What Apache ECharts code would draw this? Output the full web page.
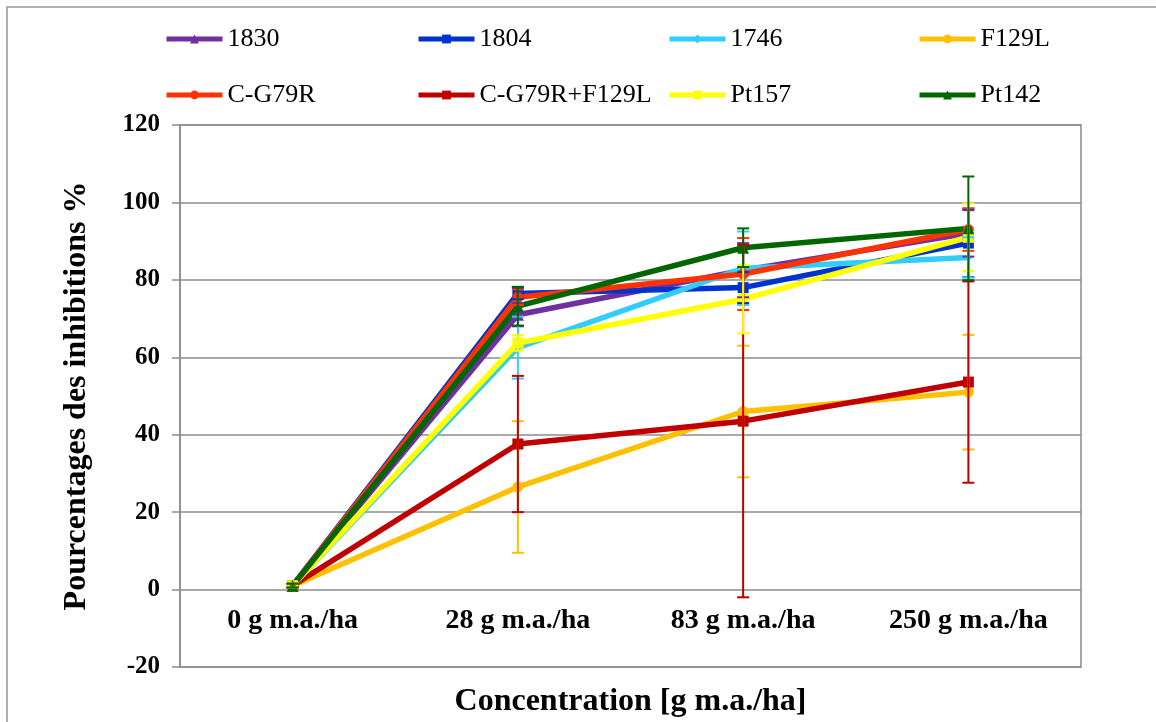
<!DOCTYPE html>
<html>
<head>
<meta charset="utf-8">
<script src="https://cdn.jsdelivr.net/npm/echarts@6/dist/echarts.min.js"></script>
<style>html,body{margin:0;padding:0;background:#fff}#c{width:1156px;height:722px}</style>
</head>
<body>
<div id="c"></div>
<script>
const categories = ['0 g m.a./ha', '28 g m.a./ha', '83 g m.a./ha', '250 g m.a./ha'];
const yTicks = [-20, 0, 20, 40, 60, 80, 100, 120];

const names = ['1830', '1804', '1746', 'F129L', 'C-G79R', 'C-G79R+F129L', 'Pt157', 'Pt142'];
const colors = ['#7030A0', '#0033CC', '#33CCFF', '#FFC000', '#FF3300', '#C00000', '#FFFF00', '#006600'];
const symbols = ['triangle', 'rect', 'diamond', 'circle', 'circle', 'rect', 'rect', 'triangle'];

const v1830 = [1, 71, 82.5, 92];
const v1804 = [1, 76.5, 78, 89.5];
const v1746 = [1, 62.5, 83, 85.8];
const vF129L = [1, 26.5, 46, 51];
const vCG79R = [1, 75.5, 81.5, 93];
const vCG79RF129L = [1, 37.6, 43.5, 53.6];
const vPt157 = [1, 63.7, 75, 91];
const vPt142 = [1, 73.2, 88.3, 93.3];

const e1830 = [0.5, 3, 7, 6];
const e1804 = [0.5, 1.5, 4, 8.8];
const e1746 = [0.5, 8, 9.5, 5.2];
const eF129L = [0.5, 17, 17, 14.8];
const eCG79R = [0.5, 2, 9.3, 5.5];
const eCG79RF129L = [0.5, 17.6, 45.5, 26];
const ePt157 = [0.5, 2, 8.8, 8.7];
const ePt142 = [0.5, 5, 5, 13.4];

const values = [v1830, v1804, v1746, vF129L, vCG79R, vCG79RF129L, vPt157, vPt142];
const errors = [e1830, e1804, e1746, eF129L, eCG79R, eCG79RF129L, ePt157, ePt142];

const FONT = "'Liberation Serif','Times New Roman',serif";

const legendCols = [159, 411, 662, 912];
const legendRows = [21, 77];

const legends = names.map((n, i) => ({
  data: [n],
  left: legendCols[i % 4],
  top: legendRows[Math.floor(i / 4)],
  itemWidth: 56,
  itemHeight: 11,
  lineStyle: { width: 5 },
  textStyle: { fontFamily: FONT, fontSize: 26, color: '#000' },
  selectedMode: false
}));

const lineSeries = names.map((n, i) => ({
  name: n,
  type: 'line',
  data: values[i],
  symbol: symbols[i],
  symbolSize: symbols[i] === 'diamond' ? 8 : (symbols[i] === 'triangle' ? 12 : 11),
  lineStyle: { width: 5.5, color: colors[i] },
  itemStyle: { color: colors[i] },
  z: 3,
  animation: false
}));

const errSeries = names.map((n, i) => ({
  name: n + ' err',
  type: 'custom',
  data: values[i].map((v, k) => [k, v - errors[i][k], v + errors[i][k]]),
  z: 4,
  animation: false,
  renderItem: function (params, api) {
    const x = api.value(0);
    const lo = api.coord([x, api.value(1)]);
    const hi = api.coord([x, api.value(2)]);
    const hw = 6;
    const st = { stroke: colors[i], lineWidth: 2 };
    return {
      type: 'group',
      children: [
        { type: 'line', shape: { x1: lo[0], y1: lo[1], x2: hi[0], y2: hi[1] }, style: st },
        { type: 'line', shape: { x1: lo[0] - hw, y1: lo[1], x2: lo[0] + hw, y2: lo[1] }, style: st },
        { type: 'line', shape: { x1: hi[0] - hw, y1: hi[1], x2: hi[0] + hw, y2: hi[1] }, style: st }
      ]
    };
  }
}));

const chart = echarts.init(document.getElementById('c'), null, { renderer: 'canvas' });
chart.setOption({
  animation: false,
  backgroundColor: '#fff',
  legend: legends,
  grid: { left: 180, right: 75, top: 125, bottom: 55, show: true, borderColor: '#8c8c8c', borderWidth: 1.5, containLabel: false, outerBoundsMode: 'none' },
  xAxis: {
    type: 'category',
    data: categories,
    boundaryGap: true,
    axisLine: { show: false, onZero: false },
    axisTick: { show: false },
    axisLabel: { fontFamily: FONT, fontSize: 28, fontWeight: 'bold', color: '#000', margin: -60 },
    name: 'Concentration [g m.a./ha]',
    nameLocation: 'middle',
    nameGap: 19,
    nameTextStyle: { fontFamily: FONT, fontSize: 32, fontWeight: 'bold', color: '#000' }
  },
  yAxis: {
    type: 'value',
    min: yTicks[0],
    max: yTicks[yTicks.length - 1],
    interval: 20,
    axisLine: { show: true, lineStyle: { color: '#8c8c8c', width: 1.5 } },
    axisTick: { show: true, length: 8, lineStyle: { color: '#8c8c8c', width: 1.5 } },
    splitLine: { show: true, lineStyle: { color: '#8c8c8c', width: 1.5 } },
    axisLabel: { fontFamily: FONT, fontSize: 25, fontWeight: 'bold', color: '#000', margin: 20 },
    name: 'Pourcentages des inhibitions %',
    nameLocation: 'middle',
    nameGap: 87,
    nameRotate: 90,
    nameTextStyle: { fontFamily: FONT, fontSize: 32, fontWeight: 'bold', color: '#000' }
  },
  graphic: [{
    type: 'rect',
    shape: { x: 7, y: 7, width: 1200, height: 800 },
    style: { fill: 'none', stroke: '#b0b0b0', lineWidth: 2 },
    silent: true
  }],
  series: lineSeries.concat(errSeries)
});
</script>
</body>
</html>
